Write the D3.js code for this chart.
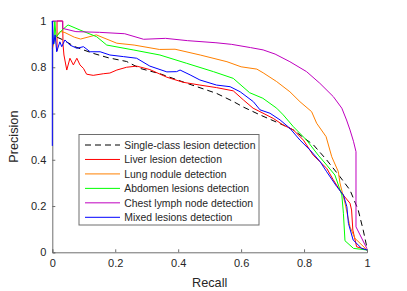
<!DOCTYPE html>
<html>
<head>
<meta charset="utf-8">
<script src="https://cdn.jsdelivr.net/npm/d3@7"></script>
<style>
  body { margin: 0; background: #fff; }
  text { font-family: "Liberation Sans", Arial, sans-serif; fill: #262626; }
</style>
</head>
<body>
<script>
// tick values for both axes
const xTicks = [0, 0.2, 0.4, 0.6, 0.8, 1]
const yTicks = [0, 0.2, 0.4, 0.6, 0.8, 1]

// [recall, precision] pairs
const singleClass = [[0.015,0.93],[0.035,0.918],[0.07,0.89],[0.099,0.875],[0.13,0.86],[0.178,0.841],[0.236,0.825],[0.279,0.795],[0.342,0.772],[0.427,0.731],[0.522,0.687],[0.575,0.652],[0.607,0.628],[0.66,0.594],[0.734,0.55],[0.766,0.529],[0.83,0.464],[0.872,0.399],[0.914,0.327],[0.946,0.269],[0.972,0.183],[0.988,0.096],[1.0,0.019]]
const liver = [[0.015,0.87],[0.015,1],[0.033,1],[0.034,0.9],[0.037,0.853],[0.046,0.788],[0.056,0.839],[0.067,0.81],[0.078,0.839],[0.088,0.81],[0.099,0.795],[0.109,0.77],[0.13,0.765],[0.162,0.772],[0.183,0.775],[0.205,0.788],[0.236,0.8],[0.268,0.805],[0.31,0.79],[0.364,0.757],[0.416,0.735],[0.469,0.723],[0.522,0.712],[0.575,0.698],[0.607,0.659],[0.638,0.623],[0.66,0.608],[0.702,0.579],[0.734,0.55],[0.766,0.529],[0.798,0.485],[0.829,0.42],[0.872,0.363],[0.893,0.313],[0.92,0.255],[0.946,0.212],[0.951,0.183],[0.955,0.096],[0.967,0.024],[1.0,0.01]]
const lung = [[0.0,0.88],[0.01,0.93],[0.025,0.955],[0.04,0.95],[0.07,0.93],[0.09,0.922],[0.14,0.94],[0.205,0.904],[0.26,0.896],[0.34,0.877],[0.39,0.878],[0.47,0.853],[0.555,0.824],[0.6,0.802],[0.65,0.792],[0.67,0.776],[0.713,0.738],[0.755,0.694],[0.787,0.651],[0.824,0.608],[0.84,0.558],[0.87,0.5],[0.888,0.413],[0.909,0.348],[0.914,0.3],[0.93,0.213],[0.946,0.11],[0.962,0.06],[1.0,0.01]]
const abdomen = [[0.005,0.9],[0.008,1],[0.012,0.93],[0.03,0.96],[0.05,0.983],[0.088,0.961],[0.141,0.932],[0.173,0.896],[0.257,0.875],[0.342,0.853],[0.427,0.817],[0.512,0.781],[0.575,0.752],[0.627,0.69],[0.669,0.666],[0.713,0.623],[0.734,0.594],[0.766,0.543],[0.808,0.485],[0.845,0.42],[0.872,0.377],[0.898,0.334],[0.92,0.248],[0.925,0.169],[0.93,0.05],[0.957,0.017],[1.0,0.01]]
const chest = [[0.0,1],[0.033,1],[0.033,0.968],[0.075,0.954],[0.15,0.951],[0.23,0.945],[0.29,0.921],[0.36,0.925],[0.43,0.915],[0.52,0.906],[0.57,0.899],[0.63,0.885],[0.67,0.875],[0.708,0.857],[0.755,0.824],[0.808,0.781],[0.85,0.731],[0.893,0.673],[0.92,0.623],[0.935,0.572],[0.946,0.529],[0.957,0.48],[0.965,0.435],[0.965,0.11],[0.978,0.075],[1.0,0.015]]
const mixed = [[0,0.46],[0,1],[0.004,0.9],[0.009,0.94],[0.014,0.867],[0.024,0.91],[0.03,0.889],[0.04,0.918],[0.056,0.896],[0.078,0.882],[0.099,0.889],[0.12,0.867],[0.152,0.867],[0.183,0.853],[0.226,0.846],[0.268,0.839],[0.31,0.805],[0.364,0.78],[0.395,0.781],[0.406,0.788],[0.438,0.767],[0.469,0.745],[0.522,0.723],[0.565,0.716],[0.597,0.694],[0.639,0.651],[0.66,0.616],[0.692,0.601],[0.724,0.572],[0.755,0.536],[0.787,0.485],[0.819,0.442],[0.851,0.392],[0.872,0.348],[0.904,0.284],[0.925,0.248],[0.936,0.197],[0.941,0.125],[0.956,0.053],[0.983,0.017],[1.0,0.01]]

const seriesNames = ["Single-class lesion detection", "Liver lesion detection", "Lung nodule detection", "Abdomen lesions detection", "Chest lymph node detection", "Mixed lesions detection"]
const seriesData = [singleClass, liver, lung, abdomen, chest, mixed]
const colors = ["#000000", "#ff0000", "#ff8000", "#00ff00", "#bf00bf", "#0000ff"]

const width = 407, height = 291
const margin = {left: 52.3, right: 40, top: 21, bottom: 38.7}

// set up svg
let svg = d3.select("body").append("svg")
  .attr("width", width).attr("height", height)

let x = d3.scaleLinear().domain([0, 1]).range([margin.left, width - margin.right])
let y = d3.scaleLinear().domain([0, 1]).range([height - margin.bottom, margin.top])

// axes, ticks pointing inward like matlab
let xAxis = svg.append("g")
  .attr("transform", `translate(0,${y(0)})`)
  .call(d3.axisBottom(x).tickValues(xTicks).tickSize(-3).tickPadding(7).tickFormat(d3.format("")))
let yAxis = svg.append("g")
  .attr("transform", `translate(${x(0)},0)`)
  .call(d3.axisLeft(y).tickValues(yTicks).tickSize(-3).tickPadding(6).tickFormat(d3.format("")))

for (let ax of [xAxis, yAxis]) {
  ax.select(".domain").attr("stroke", "#6e6e6e").attr("stroke-width", 1)
  ax.selectAll(".tick line").attr("stroke", "#6e6e6e")
  ax.selectAll(".tick text").attr("fill", "#262626")
    .style("font-size", "11px").style("font-family", "Liberation Sans, Arial, sans-serif")
}

// draw the pr curves
let line = d3.line().x(d => x(d[0])).y(d => y(d[1]))
svg.selectAll(".pr").data(seriesData).enter()
  .append("path")
  .attr("class", "pr")
  .attr("d", d => line(d))
  .attr("fill", "none")
  .attr("stroke", (d, i) => colors[i])
  .attr("stroke-width", 1)
  .attr("stroke-dasharray", (d, i) => i == 0 ? "6,4" : null)

// axis labels
svg.append("text")
  .attr("x", x(0.5)).attr("y", 286.5)
  .attr("text-anchor", "middle")
  .style("font-size", "12.7px")
  .text("Recall")
svg.append("text")
  .attr("transform", `translate(17.5,${y(0.5)}) rotate(-90)`)
  .attr("text-anchor", "middle")
  .style("font-size", "12.7px")
  .text("Precision")

// legend box
let legend = svg.append("g")
legend.append("rect")
  .attr("x", 79).attr("y", 134.5).attr("width", 180).attr("height", 90.5)
  .attr("fill", "white").attr("stroke", "#6e6e6e").attr("stroke-width", 1)

let rowY = d3.scaleLinear().domain([0, 5]).range([145, 217.3])
seriesNames.forEach((name, i) => {
  legend.append("line")
    .attr("x1", 85).attr("x2", 120)
    .attr("y1", rowY(i)).attr("y2", rowY(i))
    .attr("stroke", colors[i]).attr("stroke-width", 1)
    .attr("stroke-dasharray", i == 0 ? "6,4" : null)
  legend.append("text")
    .attr("x", 124.3).attr("y", rowY(i) + 3.8)
    .style("font-size", "10.4px")
    .text(name)
})
</script>
</body>
</html>
